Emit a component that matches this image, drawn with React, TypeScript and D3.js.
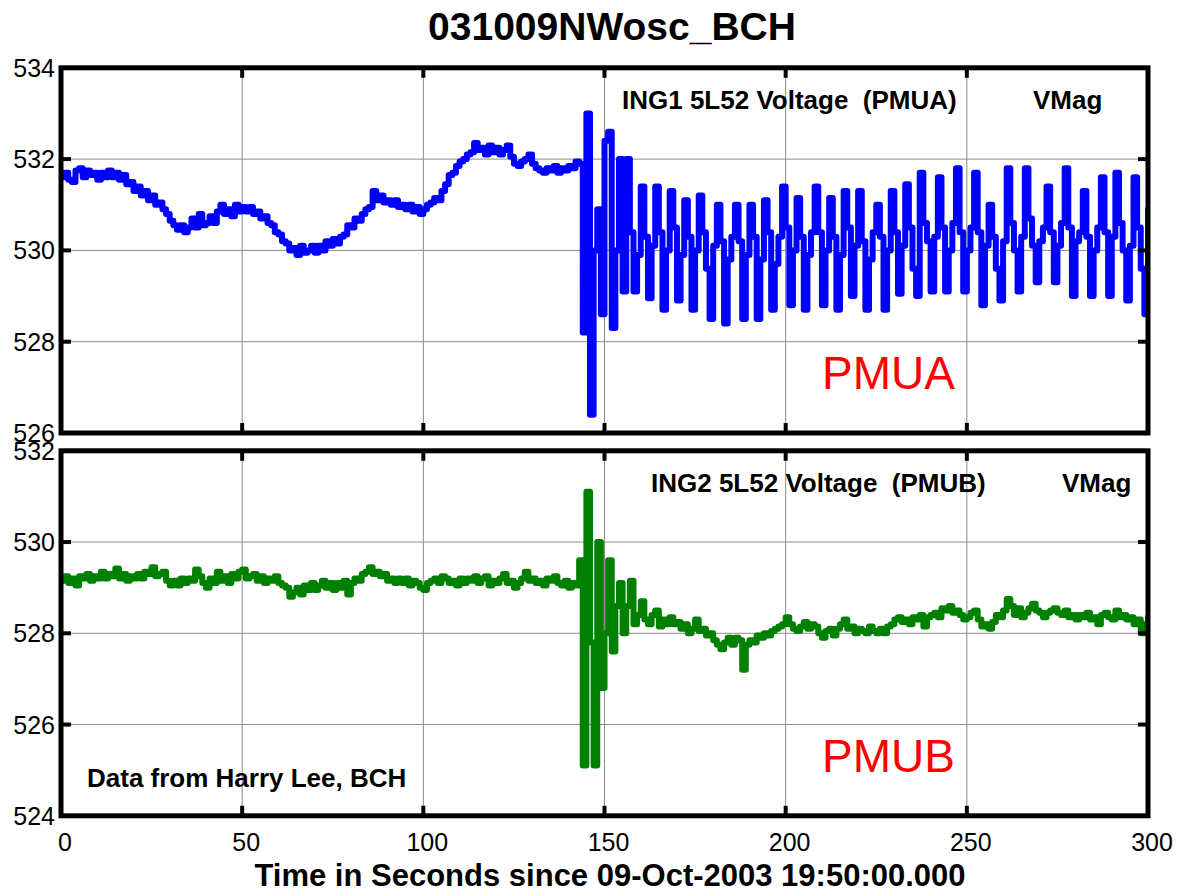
import React from "react";
import * as d3 from "d3";

// ---------- data (sampled once per second, t = 0 .. 300 s) ----------
const sampleStep = 1;
const xTicks = [0, 50, 100, 150, 200, 250, 300];
const yTicksTop = [526, 528, 530, 532, 534];
const yTicksBottom = [524, 526, 528, 530, 532];

const chartTitle = "031009NWosc_BCH";
const xAxisLabel = "Time in Seconds since 09-Oct-2003 19:50:00.000";
const topSignalLabel = "ING1 5L52 Voltage  (PMUA)";
const bottomSignalLabel = "ING2 5L52 Voltage  (PMUB)";
const quantityLabel = "VMag";
const topTag = "PMUA";
const bottomTag = "PMUB";
const sourceNote = "Data from Harry Lee, BCH";

// PMUA voltage, before the event (t = 0..142)
const pmuaPre = [
  531.6, 531.7, 531.55, 531.5, 531.75, 531.8, 531.6, 531.75, 531.65, 531.7, 531.55, 531.7, 531.6, 531.75, 531.6, 531.7, 531.55, 531.65,
  531.45, 531.5, 531.3, 531.4, 531.2, 531.3, 531.1, 531.2, 531.0, 531.05, 530.9, 530.8, 530.65, 530.55, 530.45, 530.55, 530.4,
  530.5, 530.7, 530.5, 530.8, 530.55, 530.6, 530.75, 530.6, 530.85, 531.0, 530.8, 530.9, 530.75, 531.0, 530.85, 530.95,
  530.85, 530.95, 530.8, 530.85, 530.7, 530.75, 530.6, 530.55, 530.4, 530.35, 530.2, 530.15, 530.0, 530.05,
  529.9, 530.1, 529.95, 530.0, 530.1, 529.95, 530.1, 530.0, 530.2, 530.1, 530.25, 530.15, 530.3, 530.35,
  530.55, 530.5, 530.7, 530.65, 530.8, 530.9, 530.95, 531.3,
  531.1, 531.2, 531.05, 531.1, 531.0, 531.1, 530.95, 531.0, 530.9, 531.0, 530.85, 530.95, 530.8, 530.9, 531.0,
  531.05, 531.15, 531.1, 531.3, 531.45, 531.65, 531.7, 531.85, 531.95, 532.0, 532.1, 532.15, 532.35,
  532.2, 532.25, 532.1, 532.3, 532.15, 532.25, 532.1, 532.2, 532.3, 532.05, 531.9,
  531.85, 531.95, 532.0, 532.1, 531.9, 531.8, 531.75, 531.7, 531.8, 531.75, 531.85, 531.7, 531.8, 531.75, 531.85, 531.8, 531.95,
];

// PMUA voltage, event and oscillation (t = 143..300)
const pmuaPost = [
  531.9, 528.2, 533.0, 526.4, 530.0, 530.9, 528.6, 532.4, 532.6, 528.3,
  530.0, 532.0, 529.1, 532.0, 530.4, 529.1, 529.9, 531.4, 530.3, 528.95,
  530.1, 531.4, 530.4, 528.7, 530.0, 531.3, 530.5, 528.9, 529.9, 531.1,
  530.3, 528.7, 530.0, 531.2, 530.4, 529.6, 528.5, 530.1, 531.0, 530.2,
  528.4, 529.8, 530.3, 531.0, 530.2, 528.5, 529.9, 531.0, 530.3, 528.5,
  529.8, 531.1, 530.4, 528.7, 529.7, 530.3, 531.4, 530.5, 528.8, 530.0,
  531.15, 530.3, 528.7, 529.9, 530.4, 531.4, 530.4, 528.8, 530.0, 531.15,
  530.3, 528.7, 529.9, 531.3, 530.5, 529.0, 530.1, 531.3, 530.2, 528.7,
  529.8, 530.4, 531.0, 530.3, 528.7, 530.0, 531.3, 530.4, 529.05, 530.1,
  531.45, 530.5, 529.6, 529.0, 531.7, 530.6, 530.2, 529.1, 530.3, 531.6,
  530.5, 529.1, 530.0, 530.6, 531.8, 530.4, 529.1, 530.0, 530.5, 531.7,
  530.4, 528.8, 530.1, 531.0, 530.3, 529.6, 528.9, 530.2, 531.8, 530.6,
  530.0, 529.1, 530.3, 531.8, 530.7, 530.1, 529.3, 530.2, 530.5, 531.4,
  530.4, 529.3, 530.1, 530.6, 531.8, 530.5, 529.0, 530.2, 530.4, 531.3,
  530.3, 529.0, 530.0, 530.5, 531.6, 530.4, 529.0, 530.3, 531.7, 530.6,
  530.0, 528.9, 530.1, 531.6, 530.5, 529.6, 528.6, 530.9,
];

// PMUB voltage, before the event (t = 0..142)
const pmubPre = [
  529.15, 529.25, 529.1, 529.2, 529.05, 529.25, 529.2, 529.3, 529.15, 529.25, 529.2, 529.35, 529.2, 529.3, 529.25, 529.42, 529.2, 529.3,
  529.15, 529.25, 529.2, 529.3, 529.2, 529.35, 529.3, 529.45, 529.25, 529.3, 529.35, 529.15, 529.05, 529.15, 529.05, 529.2, 529.1,
  529.2, 529.15, 529.4, 529.25, 529.1, 529.0, 529.2, 529.1, 529.35, 529.15, 529.25, 529.1, 529.3, 529.2, 529.35, 529.4,
  529.2, 529.25, 529.3, 529.15, 529.25, 529.1, 529.2, 529.15, 529.25, 529.1, 529.05, 529.0, 528.8, 528.9,
  529.0, 528.85, 529.05, 528.95, 529.1, 528.95, 529.05, 529.15, 529.0, 529.1, 528.95, 529.1, 529.0, 529.15, 528.85, 529.1,
  529.2, 529.15, 529.3, 529.35, 529.45, 529.3, 529.35, 529.25, 529.3, 529.15, 529.2, 529.1, 529.2, 529.1, 529.2, 529.05, 529.15, 529.1, 529.0, 528.95,
  529.1, 529.15, 529.2, 529.1, 529.25, 529.2, 529.1, 529.15, 529.05, 529.2, 529.1, 529.2, 529.15, 529.25, 529.1, 529.2, 529.25, 529.05, 529.15, 529.1,
  529.2, 529.3, 529.1, 529.15, 529.0, 529.1, 529.2, 529.35, 529.15, 529.2, 529.1, 529.15, 529.05, 529.2, 529.15, 529.25, 529.1, 529.05, 529.15, 529.0,
  529.1, 529.05,
];

// PMUB voltage, event and recovery (t = 143..300)
const pmubPost = [
  529.6, 525.1, 531.1, 527.8, 525.1, 530.0, 526.8, 528.0, 529.6, 527.6,
  528.6, 529.1, 528.0, 528.6, 529.15, 528.2, 528.4, 528.7, 528.3, 528.2,
  528.4, 528.5, 528.15, 528.3, 528.2, 528.35, 528.2, 528.25, 528.1, 528.2,
  528.0, 528.1, 528.3, 528.05, 528.1, 527.95, 528.0, 527.85, 527.75, 527.65,
  527.8, 527.9, 527.75, 527.9, 527.85, 527.2, 527.75, 527.85, 527.8, 527.95,
  527.9, 528.0, 527.95, 528.05, 528.1, 528.15, 528.2, 528.35, 528.2, 528.1,
  528.05, 528.15, 528.25, 528.1, 528.2, 528.15, 528.0, 527.9, 528.05, 528.1,
  527.95, 528.1, 528.2, 528.3, 528.1, 528.15, 528.0, 528.1, 528.05, 528.0,
  528.15, 528.05, 528.0, 528.1, 528.0, 528.15, 528.2, 528.3, 528.35, 528.25,
  528.3, 528.2, 528.35, 528.3, 528.4, 528.15, 528.35, 528.4, 528.45, 528.35,
  528.55, 528.5, 528.6, 528.45, 528.5, 528.4, 528.3, 528.35, 528.45, 528.5,
  528.3, 528.15, 528.2, 528.1, 528.25, 528.4, 528.35, 528.5, 528.75, 528.6,
  528.4, 528.55, 528.35, 528.45, 528.55, 528.65, 528.5, 528.45, 528.35, 528.45,
  528.5, 528.55, 528.45, 528.4, 528.5, 528.35, 528.4, 528.3, 528.4, 528.35,
  528.45, 528.3, 528.35, 528.2, 528.4, 528.45, 528.35, 528.3, 528.5, 528.35,
  528.4, 528.3, 528.35, 528.2, 528.3, 528.0, 528.2, 528.35,
];

const pmuaSeries = pmuaPre.concat(pmuaPost);
const pmubSeries = pmubPre.concat(pmubPost);

// ---------- layout ----------
const W = 1178;
const H = 895;
const FONT = "'Liberation Sans', Arial, Helvetica, sans-serif";
const plotLeft = 61;
const plotRight = 1148;
const topPanel = { top: 67.8, bottom: 433 };
const bottomPanel = { top: 450.8, bottom: 815.8 };
const tickLen = 10;

type PanelProps = {
  id: string;
  series: number[];
  domain: [number, number];
  ticks: number[];
  box: { top: number; bottom: number };
  color: string;
  showXLabels: boolean;
  signalLabel: string;
  signalX: number;
  vmagX: number;
  tag: string;
  note?: string;
};

function Panel(p: PanelProps) {
  const x = d3.scaleLinear().domain([0, 300]).range([plotLeft, plotRight]);
  const y = d3.scaleLinear().domain(p.domain).range([p.box.bottom, p.box.top]);
  const line = d3
    .line<number>()
    .x((_, i) => x(i * sampleStep))
    .y((d) => y(d))
    .curve(d3.curveStepAfter);
  const innerX = xTicks.slice(1, -1);
  const innerY = p.ticks.slice(1, -1);
  const h = p.box.bottom - p.box.top;
  return (
    <g>
      <defs>
        <clipPath id={p.id}>
          <rect x={plotLeft} y={p.box.top} width={plotRight - plotLeft} height={h} />
        </clipPath>
      </defs>
      {/* grid */}
      {innerX.map((t) => (
        <line key={"gx" + t} x1={x(t)} x2={x(t)} y1={p.box.top} y2={p.box.bottom} stroke="#8a8a8a" strokeWidth={1} />
      ))}
      {innerY.map((v) => (
        <line key={"gy" + v} x1={plotLeft} x2={plotRight} y1={y(v)} y2={y(v)} stroke="#8a8a8a" strokeWidth={1} />
      ))}
      {/* series */}
      <path
        d={line(p.series) || ""}
        fill="none"
        stroke={p.color}
        strokeWidth={6}
        strokeLinejoin="round"
        strokeLinecap="round"
        clipPath={`url(#${p.id})`}
      />
      {/* texts */}
      <text x={p.signalX} y={p.box.top + 41} fontFamily={FONT} fontWeight="bold" fontSize={26} style={{ whiteSpace: "pre" }}>
        {p.signalLabel}
      </text>
      <text x={p.vmagX} y={p.box.top + 41} fontFamily={FONT} fontWeight="bold" fontSize={26}>
        {quantityLabel}
      </text>
      <text x={822} y={p.box.top + 321} fontFamily={FONT} fontSize={46} fill="#ff0000">
        {p.tag}
      </text>
      {p.note && (
        <text x={87} y={p.box.top + 336} fontFamily={FONT} fontWeight="bold" fontSize={26}>
          {p.note}
        </text>
      )}
      {/* ticks */}
      {innerY.map((v) => (
        <g key={"ty" + v}>
          <line x1={plotLeft} x2={plotLeft + tickLen} y1={y(v)} y2={y(v)} stroke="#000" strokeWidth={4} />
          <line x1={plotRight - tickLen} x2={plotRight} y1={y(v)} y2={y(v)} stroke="#000" strokeWidth={4} />
        </g>
      ))}
      {innerX.map((t) => (
        <g key={"tx" + t}>
          <line x1={x(t)} x2={x(t)} y1={p.box.top} y2={p.box.top + tickLen} stroke="#000" strokeWidth={4} />
          <line x1={x(t)} x2={x(t)} y1={p.box.bottom - tickLen} y2={p.box.bottom} stroke="#000" strokeWidth={4} />
        </g>
      ))}
      {/* frame */}
      <rect x={plotLeft} y={p.box.top} width={plotRight - plotLeft} height={h} fill="none" stroke="#000" strokeWidth={5} />
      {/* y labels */}
      {p.ticks.map((v) => (
        <text key={"ly" + v} x={55} y={y(v)} dy="0.36em" textAnchor="end" fontFamily={FONT} fontSize={25}>
          {v}
        </text>
      ))}
      {p.showXLabels &&
        xTicks.map((t) => (
          <text key={"lx" + t} x={x(t) + 4} y={p.box.bottom + 35} textAnchor="middle" fontFamily={FONT} fontSize={25}>
            {t}
          </text>
        ))}
    </g>
  );
}

export default function App() {
  return (
    <svg width={W} height={H} style={{ position: "absolute", left: 0, top: 0, background: "#fff" }}>
      <rect x={0} y={0} width={W} height={H} fill="#fff" />
      <text x={612} y={40} textAnchor="middle" fontFamily={FONT} fontWeight="bold" fontSize={39}>
        {chartTitle}
      </text>
      <Panel
        id="clipTop"
        series={pmuaSeries}
        domain={[526, 534]}
        ticks={yTicksTop}
        box={topPanel}
        color="#0000ff"
        showXLabels={false}
        signalLabel={topSignalLabel}
        signalX={622}
        vmagX={1033}
        tag={topTag}
      />
      <Panel
        id="clipBottom"
        series={pmubSeries}
        domain={[524, 532]}
        ticks={yTicksBottom}
        box={bottomPanel}
        color="#008000"
        showXLabels={true}
        signalLabel={bottomSignalLabel}
        signalX={651}
        vmagX={1062}
        tag={bottomTag}
        note={sourceNote}
      />
      <text x={610} y={886} textAnchor="middle" fontFamily={FONT} fontWeight="bold" fontSize={31}>
        {xAxisLabel}
      </text>
    </svg>
  );
}
